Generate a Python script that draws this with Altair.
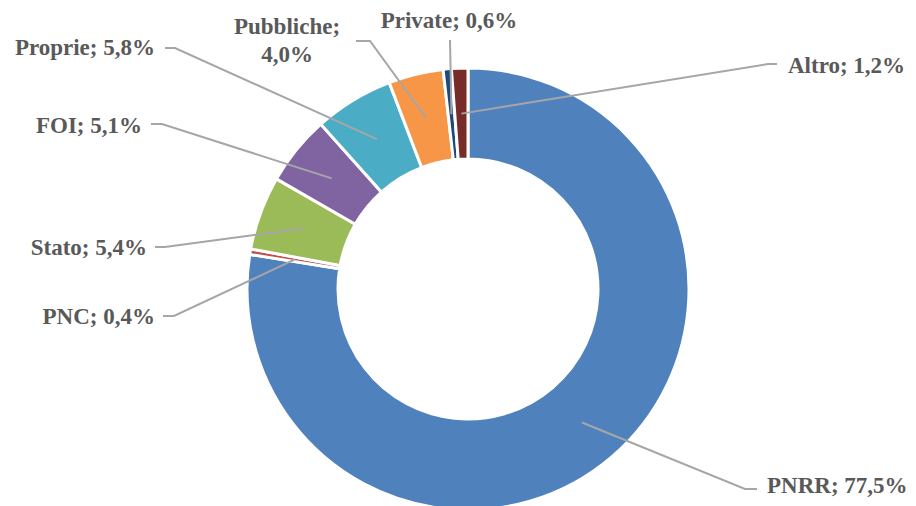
import math
import altair as alt
import pandas as pd

# ---- data ----
categories = ["PNRR", "PNC", "Stato", "FOI", "Proprie", "Pubbliche", "Private", "Altro"]
values = [77.5, 0.4, 5.4, 5.1, 5.8, 4.0, 0.6, 1.2]
colors = ["#4F81BD", "#C0504D", "#9BBB59", "#8064A2", "#4BACC6", "#F79646", "#1F497D", "#772C2A"]

# ---- layout (image pixel coordinates) ----
CX, CY = 468, 289          # donut centre
R_OUT, R_IN = 221, 130
R_LEAD = (R_OUT + R_IN) / 2
OFF = 8                    # page margin
W, H = 900, 498

# label anchor: (x, y, align) ; leader path points after slice start
label_pos = {
    "PNRR": (767, 486, "left"),
    "PNC": (155, 317, "right"),
    "Stato": (147, 248, "right"),
    "FOI": (142, 126, "right"),
    "Proprie": (155, 48, "right"),
    "Pubbliche": (287, 27, "center"),
    "Private": (449, 21, "center"),
    "Altro": (788, 66, "left"),
}
leader_pts = {
    "PNRR": [(745, 489), (757, 489)],
    "PNC": [(174, 316), (163, 316)],
    "Stato": [(165, 247), (155, 247)],
    "FOI": [(162, 124), (151, 124)],
    "Proprie": [(175, 48), (165, 48)],
    "Pubbliche": [(370, 41), (356, 41)],
    "Private": [(450, 40)],
    "Altro": [(768, 64), (777, 64)],
}

total = sum(values)
slices = pd.DataFrame({"cat": categories, "value": values, "idx": list(range(len(categories)))})

# leader lines from mid-angle of each slice
rows = []
cum = 0.0
for c, v in zip(categories, values):
    mid = (cum + v / 2) / total * 2 * math.pi
    cum += v
    sx = CX + R_LEAD * math.sin(mid)
    sy = CY - R_LEAD * math.cos(mid)
    pts = [(sx, sy)] + leader_pts[c]
    for i, (px, py) in enumerate(pts):
        rows.append({"cat": c, "i": i, "x": px, "y": py})
lines = pd.DataFrame(rows)

lab_rows = []
for c, v in zip(categories, values):
    txt = f"{c}; {v:.1f}%".replace(".", ",")
    if c == "Pubbliche":
        txt = f"{c};\n{v:.1f}%".replace(".", ",")
    x, y, a = label_pos[c]
    lab_rows.append({"cat": c, "label": txt, "x": x, "y": y, "align": a})
labels = pd.DataFrame(lab_rows)

xs = alt.Scale(domain=[OFF, OFF + W])
ys = alt.Scale(domain=[OFF, OFF + H], reverse=True)

arcs = alt.Chart(slices).mark_arc(
    outerRadius=R_OUT, innerRadius=R_IN, stroke="white", strokeWidth=3
).encode(
    theta=alt.Theta("value:Q", stack=True),
    order=alt.Order("idx:Q"),
    color=alt.Color("cat:N", scale=alt.Scale(domain=categories, range=colors), legend=None),
    x=alt.value(CX - OFF),
    y=alt.value(CY - OFF),
)

leaders = alt.Chart(lines).mark_line(color="#A6A6A6", strokeWidth=2).encode(
    x=alt.X("x:Q", scale=xs, axis=None),
    y=alt.Y("y:Q", scale=ys, axis=None),
    detail="cat:N",
    order="i:Q",
)

text_layers = []
for a in ["left", "right", "center"]:
    text_layers.append(
        alt.Chart(labels).transform_filter(alt.datum.align == a).mark_text(
            align=a, baseline="middle", font="Liberation Serif", fontSize=23,
            fontWeight="bold", color="#595959", lineBreak="\n", lineHeight=28,
        ).encode(
            x=alt.X("x:Q", scale=xs, axis=None),
            y=alt.Y("y:Q", scale=ys, axis=None),
            text="label:N",
        )
    )

chart = alt.layer(arcs, leaders, *text_layers).properties(
    width=W, height=H, padding=0, autosize=alt.AutoSizeParams(type="none")
).configure_view(stroke=None)

chart.save("out.html", embed_options={"renderer": "svg", "actions": False})
